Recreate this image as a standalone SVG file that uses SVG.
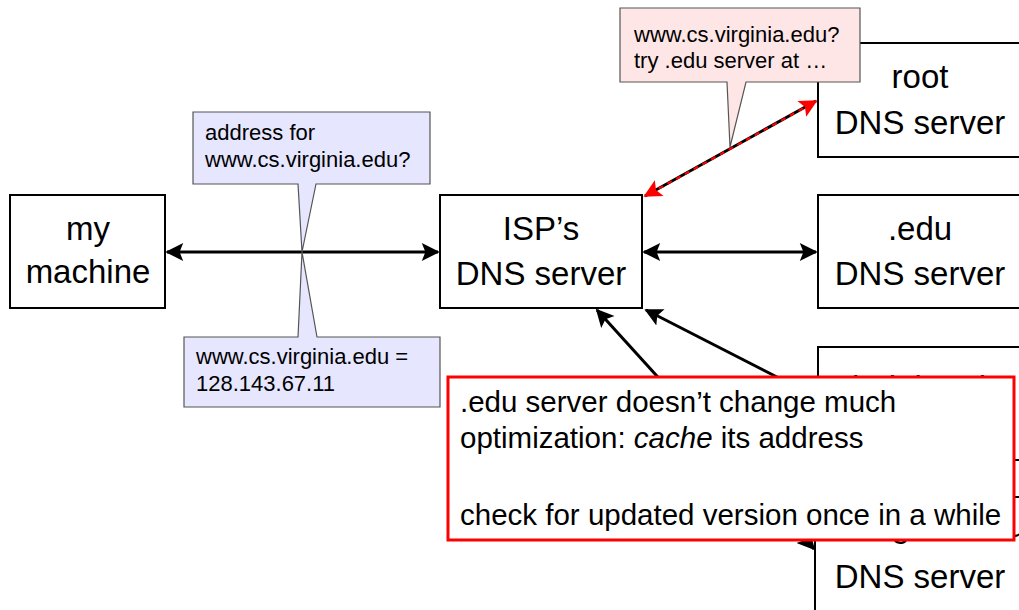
<svg xmlns="http://www.w3.org/2000/svg" width="1019" height="610" viewBox="0 0 1019 610">
<style>
.node rect{fill:#fff;stroke:#000;stroke-width:2}
.nt{font-family:"Liberation Sans",Arial,sans-serif;font-size:33px;fill:#000;text-anchor:middle}
.ct{font-family:"Liberation Sans",Arial,sans-serif;font-size:22px;fill:#000}
.rt{font-family:"Liberation Sans",Arial,sans-serif;font-size:29.5px;fill:#000}
.blue{fill:#e6e6ff;stroke:#555;stroke-width:1.2}
.pink{fill:#ffe6e6;stroke:#555;stroke-width:1.2}
.conn{stroke:#000;stroke-width:3;fill:none}
</style>
<defs>
<marker id="ah" viewBox="0 0 10 10" refX="9" refY="5" markerWidth="7" markerHeight="6" orient="auto-start-reverse" markerUnits="strokeWidth"><path d="M0,0 L10,5 L0,10 L2,5 z" fill="#000"/></marker>
<marker id="ahr" viewBox="0 0 10 10" refX="9" refY="5" markerWidth="7" markerHeight="6" orient="auto-start-reverse" markerUnits="strokeWidth"><path d="M0,0 L10,5 L0,10 L2,5 z" fill="#f00"/></marker>
</defs>

<g id="my-machine" class="node"><rect x="10" y="195" width="155" height="113"/><text class="nt" x="88" y="240">my</text><text class="nt" x="88" y="283">machine</text></g>
<g id="isp" class="node"><rect x="440" y="195" width="202" height="113"/><text class="nt" x="541" y="240">ISP’s</text><text class="nt" x="541" y="285">DNS server</text></g>
<g id="root" class="node"><rect x="818" y="43" width="210" height="114"/><text class="nt" x="920" y="88">root</text><text class="nt" x="920" y="134">DNS server</text></g>
<g id="edu" class="node"><rect x="818" y="195" width="210" height="113"/><text class="nt" x="920" y="240">.edu</text><text class="nt" x="920" y="285">DNS server</text></g>
<g id="virginia" class="node"><rect x="818" y="347" width="210" height="113"/><text class="nt" x="920" y="399">virginia.edu</text><text class="nt" x="920" y="440">DNS server</text></g>
<g id="cs-virginia" class="node"><rect x="815" y="497" width="210" height="125"/><text class="nt" x="920" y="537">cs.virginia.edu</text><text class="nt" x="920" y="588">DNS server</text></g>

<g id="connectors">
<line class="conn" x1="167" y1="252" x2="438" y2="252" marker-start="url(#ah)" marker-end="url(#ah)"/>
<line class="conn" x1="644" y1="252" x2="816" y2="252" marker-start="url(#ah)" marker-end="url(#ah)"/>
<line class="conn" x1="645" y1="196" x2="816" y2="101" marker-start="url(#ahr)" marker-end="url(#ahr)"/>
<line x1="650" y1="193.5" x2="811" y2="104" stroke="#f00" stroke-width="2.2" stroke-dasharray="5 5"/>
<line class="conn" x1="597" y1="310" x2="814" y2="549" marker-start="url(#ah)" marker-end="url(#ah)"/>
<line class="conn" x1="646" y1="310" x2="816" y2="397" marker-start="url(#ah)" marker-end="url(#ah)"/>
</g>

<g id="callout-query">
<path class="blue" d="M193,112 H430 V184 H316 L302,252 L298,184 H193 Z"/>
<text class="ct" x="205" y="140">address for</text>
<text class="ct" x="205" y="167">www.cs.virginia.edu?</text>
</g>
<g id="callout-answer">
<path class="blue" d="M184,337 H298 L302,252 L317,337 H440 V407 H184 Z"/>
<text class="ct" x="196" y="364">www.cs.virginia.edu =</text>
<text class="ct" x="196" y="391">128.143.67.11</text>
</g>
<g id="callout-root">
<path class="pink" d="M620,8 H860 V82 H746 L730,147 L727,82 H620 Z"/>
<text class="ct" x="634" y="42">www.cs.virginia.edu?</text>
<text class="ct" x="634" y="68">try .edu server at …</text>
</g>

<g id="note">
<rect x="448" y="377" width="566" height="163" fill="#fff" stroke="#f00" stroke-width="3"/>
<text class="rt" x="460" y="412">.edu server doesn’t change much</text>
<text class="rt" x="460" y="448">optimization: <tspan font-style="italic">cache</tspan> its address</text>
<text class="rt" x="460" y="525">check for updated version once in a while</text>
</g>
</svg>
